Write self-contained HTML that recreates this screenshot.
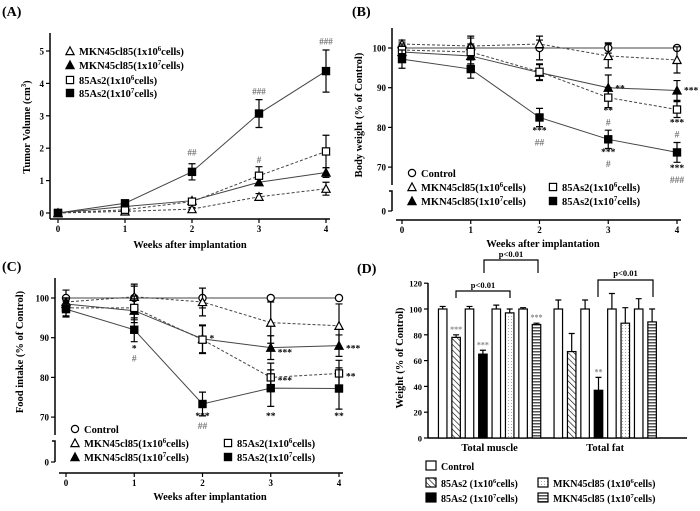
<!DOCTYPE html>
<html><head><meta charset="utf-8"><style>
body{margin:0;background:#fff}
svg{display:block;font-family:"Liberation Serif",serif;font-weight:bold}
</style></head><body>
<svg id="fig" width="700" height="511" viewBox="0 0 700 511" xmlns="http://www.w3.org/2000/svg">
<defs>
<pattern id="hatch" width="4" height="4" patternUnits="userSpaceOnUse" patternTransform="rotate(-45)"><rect width="4" height="4" fill="#fff"/><line x1="0" y1="0" x2="0" y2="4" stroke="#000" stroke-width="1.2"/></pattern>
<pattern id="dots" width="3" height="3" patternUnits="userSpaceOnUse"><rect width="3" height="3" fill="#fff"/><rect x="1" y="1" width="0.8" height="0.8" fill="#777"/></pattern>
<pattern id="stripes" width="4" height="3" patternUnits="userSpaceOnUse"><rect width="4" height="3" fill="#fff"/><rect y="0" width="4" height="1.5" fill="#555"/></pattern>
</defs>
<g id="A"></g>
<g id="B"></g>
<g id="C"></g>
<g id="D"></g>
</svg>
<script>
// ---- shared x data
const weeks = [0,1,2,3,4];
// ---- Panel A data
const aMkn6 = [0,0.05,0.12,0.5,0.75];
const aMkn6Err = [0,0.05,0.05,0.1,0.2];
const aMkn7 = [0,0.2,0.38,0.95,1.25];
const aMkn7Err = [0,0.05,0.05,0.1,0.15];
const aAs6 = [0,0.1,0.35,1.15,1.9];
const aAs6Err = [0,0.05,0.05,0.28,0.5];
const aAs7 = [0,0.3,1.27,3.07,4.38];
const aAs7Err = [0,0.05,0.25,0.43,0.65];
const aTicks = [0,1,2,3,4,5];
// ---- Panel B data
const bCtrl = [100,100,100,100,100];
const bCtrlErr = [1.5,2.5,3,1.3,0.5];
const bMkn6 = [101,100.5,101,98,97];
const bMkn6Err = [1,2.5,1,3,3.3];
const bMkn7 = [99,98,93.8,90,89.3];
const bMkn7Err = [1.5,2,2,3.2,2.5];
const bAs6 = [99.5,99,94,87.5,84.5];
const bAs6Err = [1.5,2,2,2.5,2];
const bAs7 = [97.2,94.7,82.5,77,73.7];
const bAs7Err = [2.3,2.3,2.3,2.3,2.5];
// ---- Panel C data
const cCtrl = [100,100,100,100,100];
const cCtrlErr = [2,3,2.5,0.5,0.5];
const cMkn6 = [99,100.3,99,93.8,93];
const cMkn6Err = [1,3.2,3.5,5.2,5.5];
const cMkn7 = [98.5,96.8,89.7,87.5,88];
const cMkn7Err = [1.5,3,3.5,3,2.7];
const cAs6 = [97.5,97.5,89.5,80,81];
const cAs6Err = [2,3,3.5,3.6,3.3];
const cAs7 = [97.2,92,73.3,77.3,77.2];
const cAs7Err = [2,3,3,4.6,5.2];
const pctTicks = [70,80,90,100];
// ---- Panel D data
const dGroups = ["Total muscle","Total fat"];
const dMuscle = [100,78,100,65,100,97,100,88];
const dMuscleErr = [2,2,2,3,3,3,1,1];
const dFat = [100,67,100,37,100,89,100,90];
const dFatErr = [7,14,7,10,12,12,8,10];
const dTicks = [0,20,40,60,80,100,120];

const NS="http://www.w3.org/2000/svg";
function el(p,t,a,txt){const e=document.createElementNS(NS,t);for(const k in a)e.setAttribute(k,a[k]);if(txt!==undefined)e.textContent=txt;p.appendChild(e);return e;}

function marker(g,type,x,y){
  const s=3.6;let m;
  const fill=type[0]==='f'?'#000':'#fff';
  if(type[1]==='c') m=el(g,'circle',{cx:x,cy:y,r:s,fill:fill,stroke:'#000','stroke-width':1.2});
  else if(type[1]==='s') m=el(g,'rect',{x:x-s,y:y-s,width:2*s,height:2*s,fill:fill,stroke:'#000','stroke-width':1.2});
  else m=el(g,'path',{d:`M${x} ${y-s-0.5}L${x+s+0.5} ${y+s}L${x-s-0.5} ${y+s}Z`,fill:fill,stroke:'#000','stroke-width':1.2});
  
  
  return m;
}
function series(g,xs,ys,errs,X,Y,type,dash,name){
  const sg=el(g,'g',{});
  
  
  let d='';xs.forEach((w,i)=>{d+=(i?'L':'M')+X(w)+' '+Y(ys[i]);});
  el(sg,'path',{d:d,fill:'none',stroke:'#444','stroke-width':1,'stroke-dasharray':dash?'3,2':'none'});
  xs.forEach((w,i)=>{const x=X(w),y1=Y(ys[i]+errs[i]),y2=Y(ys[i]-errs[i]);
    el(sg,'path',{d:`M${x} ${y1}V${y2}M${x-3.5} ${y1}H${x+3.5}M${x-3.5} ${y2}H${x+3.5}`,stroke:'#000','stroke-width':1.2,fill:'none'});});
  xs.forEach((w,i)=>marker(sg,type,X(w),Y(ys[i])));
}
function txt(g,x,y,s,opt,name){
  const t=el(g,'text',Object.assign({x:x,y:y,'font-size':10},opt||{}),s);
  
  
  return t;
}
function supLabel(g,x,y,pre,sup,post,fs,name){
  const t=el(g,'text',{x:x,y:y,'font-size':fs});
  
  
  el(t,'tspan',{},pre);el(t,'tspan',{dy:-4,'font-size':fs*0.65},sup);el(t,'tspan',{dy:4},post);
  return t;
}
function xAxis(g,X,y,x1,x2){
  const ax=el(g,'g',{});
  
  
  el(ax,'line',{x1:x1,x2:x2,y1:y,y2:y,stroke:'#000','stroke-width':1.5});
  weeks.forEach(w=>{el(ax,'line',{x1:X(w),x2:X(w),y1:y,y2:y+4,stroke:'#000','stroke-width':1.2});
    txt(ax,X(w),y+13,w,{'text-anchor':'middle','font-size':9},'x-tick-label');});
}
function yTicks(g,Y,x,vals,fs){
  vals.forEach(v=>{el(g,'line',{x1:x-4,x2:x,y1:Y(v),y2:Y(v),stroke:'#000','stroke-width':1.2});
    txt(g,x-6,Y(v)+3.5,v,{'text-anchor':'end','font-size':fs||9},'y-tick-label');});
}

// ===== Panel A
(function(){
  const g=document.getElementById('A');
  const X=w=>58+w*67, Y=v=>213-v*32.4;
  txt(g,2,16,'(A)',{'font-size':14},'panel-label-a');
  el(g,'line',{x1:50,x2:50,y1:33,y2:219,stroke:'#000','stroke-width':1.5});
  yTicks(g,Y,50,aTicks);
  xAxis(g,X,219,50,330);
  txt(g,190,248,'Weeks after implantation',{'text-anchor':'middle','font-size':10.5},'x-axis-title');
  const yl=supLabel(g,0,0,'Tumor Volume (cm','3',')',10.5,'y-axis-title');
  yl.setAttribute('transform','translate(30,127) rotate(-90)');yl.setAttribute('text-anchor','middle');
  series(g,weeks,aMkn6,aMkn6Err,X,Y,'ot',true,'series-mkn-1e6');
  series(g,weeks,aMkn7,aMkn7Err,X,Y,'ft',false,'series-mkn-1e7');
  series(g,weeks,aAs6,aAs6Err,X,Y,'os',true,'series-85as2-1e6');
  series(g,weeks,aAs7,aAs7Err,X,Y,'fs',false,'series-85as2-1e7');
  const gr={'text-anchor':'middle','font-size':9,fill:'#777'};
  txt(g,X(2),Y(1.78),'##',gr,'sig-mark');txt(g,X(3),Y(1.55),'#',gr,'sig-mark');
  txt(g,X(3),Y(3.65),'###',gr,'sig-mark');txt(g,X(4),Y(5.2),'###',gr,'sig-mark');
  const leg=[['ot','MKN45cl85(1x10','6','cells)',51],['ft','MKN45cl85(1x10','7','cells)',65],['os','85As2(1x10','6','cells)',80],['fs','85As2(1x10','7','cells)',93]];
  leg.forEach(l=>{marker(g,l[0],70,l[4]);supLabel(g,79,l[4]+4,l[1],l[2],l[3],10.5,'legend-entry');});
})();

// ===== Line panels B and C
function pctPanel(id,ox,oy,cfg,d){
  const g=document.getElementById(id);
  const X=w=>cfg.x0+w*cfg.dx, Y=v=>cfg.y100+(100-v)*3.97;
  txt(g,ox+2,oy+16,'('+id+')',{'font-size':14},'panel-label');
  el(g,'line',{x1:cfg.ax,x2:cfg.ax,y1:cfg.top,y2:Y(65.5),stroke:'#000','stroke-width':1.5});
  el(g,'path',{d:`M${cfg.ax-3} ${Y(65.5)+6}H${cfg.ax}V${cfg.zero}`,stroke:'#000','stroke-width':1.5,fill:'none'});
  yTicks(g,Y,cfg.ax,pctTicks);
  el(g,'line',{x1:cfg.ax-4,x2:cfg.ax,y1:cfg.zero,y2:cfg.zero,stroke:'#000','stroke-width':1.2});
  txt(g,cfg.ax-6,cfg.zero+3.5,'0',{'text-anchor':'end','font-size':9},'y-tick-label');
  xAxis(g,X,cfg.xaxis,cfg.ax+4,X(4)+4);
  txt(g,cfg.xlabX,cfg.xaxis+27,'Weeks after implantation',{'text-anchor':'middle','font-size':10.5},'x-axis-title');
  txt(g,0,0,cfg.ylab,{'text-anchor':'middle','font-size':10.5,transform:`translate(${cfg.ylx},${cfg.yly}) rotate(-90)`},'y-axis-title');
  series(g,weeks,d[0],d[1],X,Y,'oc',false,'series-control');
  series(g,weeks,d[2],d[3],X,Y,'ot',true,'series-mkn-1e6');
  series(g,weeks,d[4],d[5],X,Y,'ft',false,'series-mkn-1e7');
  series(g,weeks,d[6],d[7],X,Y,'os',true,'series-85as2-1e6');
  series(g,weeks,d[8],d[9],X,Y,'fs',false,'series-85as2-1e7');
  cfg.marks.forEach(m=>txt(g,X(m[0])+m[1],Y(m[2]),m[3],{'text-anchor':m[1]?'start':'middle','font-size':9.5,fill:m[3][0]==='#'?'#777':'#000'},'sig-mark'));
  const L=cfg.leg;
  marker(g,'oc',L.lx,L.r1);txt(g,L.lx+9,L.r1+4,'Control',{'font-size':10.5},'legend-entry');
  marker(g,'ot',L.lx,L.r2);supLabel(g,L.lx+9,L.r2+4,'MKN45cl85(1x10','6','cells)',10.5,'legend-entry');
  marker(g,'ft',L.lx,L.r3);supLabel(g,L.lx+9,L.r3+4,'MKN45cl85(1x10','7','cells)',10.5,'legend-entry');
  marker(g,'os',L.rx,L.r2);supLabel(g,L.rx+9,L.r2+4,'85As2(1x10','6','cells)',10.5,'legend-entry');
  marker(g,'fs',L.rx,L.r3);supLabel(g,L.rx+9,L.r3+4,'85As2(1x10','7','cells)',10.5,'legend-entry');
}
pctPanel('B',350,0,{x0:402,dx:68.75,y100:48,ax:392,top:28,zero:211,xaxis:220,xlabX:543,ylab:'Body weight (% of Control)',ylx:362,yly:115,
  marks:[[3,7,89,'**'],[4,7,88.5,'***'],[3,0,83.5,'**'],[3,0,80.5,'#'],[4,0,80.5,'***'],[4,0,77.5,'#'],[2,0,78.5,'***'],[2,0,75.5,'##'],[3,0,73,'***'],[3,0,70,'#'],[4,0,69,'***'],[4,0,66,'###']],
  leg:{lx:412,rx:553,r1:173,r2:187,r3:201}},
  [bCtrl,bCtrlErr,bMkn6,bMkn6Err,bMkn7,bMkn7Err,bAs6,bAs6Err,bAs7,bAs7Err]);
pctPanel('C',0,255,{x0:66,dx:68.25,y100:298,ax:55,top:278,zero:462,xaxis:473,xlabX:210,ylab:'Food intake (% of Control)',ylx:23,yly:352,
  marks:[[1,0,86.5,'*'],[1,0,84,'#'],[2,7,89,'*'],[3,7,85.5,'***'],[3,7,78.5,'***'],[4,7,86.5,'***'],[4,7,79.5,'**'],[2,0,69.5,'***'],[2,0,67,'##'],[3,0,69.5,'**'],[4,0,69.5,'**']],
  leg:{lx:75,rx:228,r1:429,r2:443,r3:457}},
  [cCtrl,cCtrlErr,cMkn6,cMkn6Err,cMkn7,cMkn7Err,cAs6,cAs6Err,cAs7,cAs7Err]);

// ===== Panel D
(function(){
  const g=document.getElementById('D');
  const Y=v=>438-v*1.29;
  const fills=['#fff','url(#hatch)','#fff','#000','#fff','url(#dots)','#fff','url(#stripes)'];
  const groupStart=[442.7,558.3], step=13.4, bw=8.5;
  const X=(gi,i)=>groupStart[gi]+i*step;
  txt(g,357,273,'(D)',{'font-size':14},'panel-label-d');
  el(g,'line',{x1:428,x2:428,y1:283,y2:438,stroke:'#000','stroke-width':1.5});
  yTicks(g,Y,428,dTicks,8.5);
  el(g,'line',{x1:428,x2:687,y1:438,y2:438,stroke:'#000','stroke-width':1.5});
  txt(g,0,0,'Weight (% of Control)',{'text-anchor':'middle','font-size':10.5,transform:'translate(403,358) rotate(-90)'},'y-axis-title');
  [dMuscle,dFat].forEach((vals,gi)=>{
    const errs=gi?dFatErr:dMuscleErr;
    vals.forEach((v,i)=>{const x=X(gi,i);
      el(g,'path',{d:`M${x} ${Y(v)}V${Y(v+errs[i])}M${x-3} ${Y(v+errs[i])}H${x+3}`,stroke:'#000','stroke-width':1.2});
      const r=el(g,'rect',{x:x-bw/2,y:Y(v),width:bw,height:438-Y(v),fill:fills[i],stroke:'#000','stroke-width':1.2});
      
      
    });
    txt(g,(X(gi,0)+X(gi,7))/2,451,dGroups[gi],{'text-anchor':'middle','font-size':10.5},'x-category-label');
  });
  const gs={'text-anchor':'middle','font-size':8,fill:'#888'};
  txt(g,X(0,1),Y(dMuscle[1]+dMuscleErr[1])-3,'***',gs,'sig-mark');
  txt(g,X(0,3),Y(dMuscle[3]+dMuscleErr[3])-3,'***',gs,'sig-mark');
  txt(g,X(0,7),Y(dMuscle[7]+dMuscleErr[7])-3,'***',gs,'sig-mark');
  txt(g,X(1,3),Y(dFat[3]+dFatErr[3])-3,'**',gs,'sig-mark');
  const br=(x1,x2,top,b1,b2,ly)=>{el(g,'path',{d:`M${x1} ${b1}V${top}H${x2}V${b2}`,fill:'none',stroke:'#000','stroke-width':1.2});
    txt(g,(x1+x2)/2,ly,'p<0.01',{'text-anchor':'middle','font-size':8.5},'bracket-label');};
  br(456,510,291,298,298,288);
  br(484,538,260,273,273,257);
  br(598,653,280,297,297,276);
  const leg=[[426,466,'#fff','Control','',''],[426,483,'url(#hatch)','85As2 (1x10','6','cells)'],[426,498,'#000','85As2 (1x10','7','cells)'],
    [538,483,'url(#dots)','MKN45cl85 (1x10','6','cells)'],[538,498,'url(#stripes)','MKN45cl85 (1x10','7','cells)']];
  leg.forEach(l=>{el(g,'rect',{x:l[0],y:l[1]-5,width:10,height:9,fill:l[2],stroke:'#000','stroke-width':1.2});
    if(l[4]) supLabel(g,l[0]+15,l[1]+4,l[3],l[4],l[5],10,'legend-entry'); else txt(g,l[0]+15,l[1]+4,l[3],{'font-size':10},'legend-entry');});
})();
</script>
</body></html>
